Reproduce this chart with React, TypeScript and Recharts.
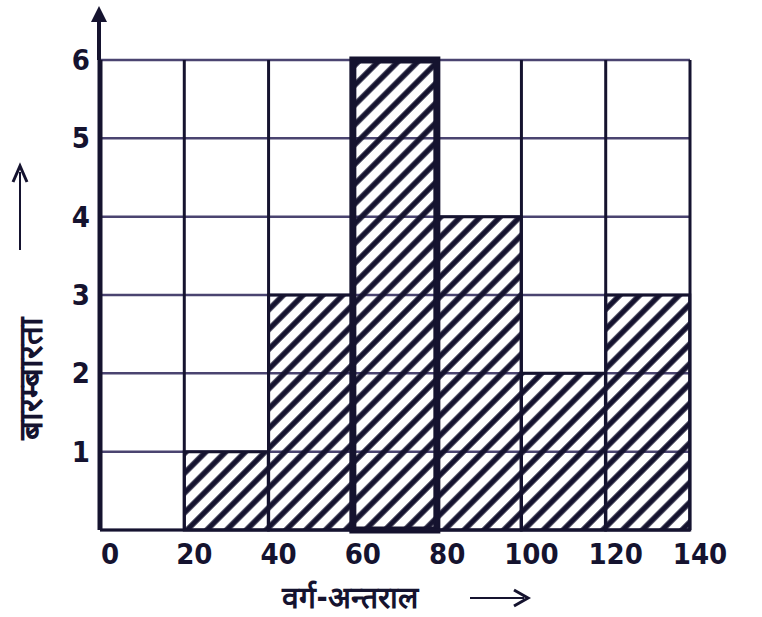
import { useEffect } from 'react';
import { ComposedChart, Bar, Cell, XAxis, YAxis, CartesianGrid, Customized } from 'recharts';

const classLabels = ['0-20', '20-40', '40-60', '60-80', '80-100', '100-120', '120-140'];
const classStarts = [0, 20, 40, 60, 80, 100, 120];
const frequencies = [0, 1, 3, 6, 4, 2, 3];
const xTicks = [0, 20, 40, 60, 80, 100, 120, 140];
const yTicks = [0, 1, 2, 3, 4, 5, 6];

const W = 762;
const H = 617;
const M = { top: 60, right: 72, bottom: 47, left: 60 };
const INK = '#15132f';
const FONT = '"DejaVu Sans Condensed", "DejaVu Sans", sans-serif';

const data = classLabels.map((label, i) => ({
  label,
  start: classStarts[i],
  freq: frequencies[i],
}));

function XTick(props: any) {
  const { x, y, payload } = props;
  return (
    <text x={x + 10} y={y + 26} textAnchor="middle" fontFamily={FONT} fontWeight="bold" fontSize={29} fill={INK}>
      {payload.value}
    </text>
  );
}

function YTick(props: any) {
  const { x, y, payload } = props;
  if (payload.value === 0) return null;
  return (
    <text x={x - 2} y={y + 10} textAnchor="end" fontFamily={FONT} fontWeight="bold" fontSize={29} fill={INK}>
      {payload.value}
    </text>
  );
}

function Decorations() {
  const left = M.left + 40;
  const top = M.top;
  return (
    <g>
      {/* y axis arrow */}
      <line x1={left - 1} y1={top} x2={left - 1} y2={10} stroke={INK} strokeWidth={4} />
      <path d={`M${left - 9},22 L${left - 1},6 L${left + 7},22 Z`} fill={INK} />
      {/* y label */}
      <line x1={20} y1={250} x2={20} y2={172} stroke={INK} strokeWidth={2} />
      <path d="M13,182 L20,166 L27,182" fill="none" stroke={INK} strokeWidth={3} />
      <text
        x={30}
        y={378}
        transform="rotate(-90 30 378)"
        textAnchor="middle"
        dominantBaseline="central"
        fontFamily={FONT}
        fontWeight="bold"
        fontSize={33}
        fill={INK}
      >
        बारम्बारता
      </text>
      {/* x label */}
      <text x={350} y={608} textAnchor="middle" fontFamily={FONT} fontWeight="bold" fontSize={30} fill={INK}>
        वर्ग-अन्तराल
      </text>
      <line x1={470} y1={598} x2={524} y2={598} stroke={INK} strokeWidth={2} />
      <path d="M514,590 L528,598 L514,606" fill="none" stroke={INK} strokeWidth={3} />
    </g>
  );
}

export default function App() {
  useEffect(() => {
    document.body.style.margin = '0';
  }, []);

  return (
    <div style={{ width: W, height: H, background: '#fff' }}>
      <ComposedChart width={W} height={H} data={data} margin={M} barCategoryGap={0} barGap={0}>
        <defs>
          <pattern id="hatch" width="14" height="14" patternUnits="userSpaceOnUse" patternTransform="rotate(45)">
            <line x1="3" y1="0" x2="3" y2="14" stroke={INK} strokeWidth={5.5} />
          </pattern>
        </defs>
        <CartesianGrid
          xAxisId="num"
          vertical={false}
          horizontalValues={yTicks}
          stroke="#4a4470"
          strokeWidth={2.5}
        />
        <CartesianGrid
          xAxisId="num"
          horizontal={false}
          verticalValues={xTicks}
          stroke={INK}
          strokeWidth={3}
        />
        <XAxis xAxisId="cat" dataKey="label" hide height={0} />
        <XAxis
          xAxisId="num"
          type="number"
          dataKey="start"
          domain={[0, 140]}
          ticks={xTicks}
          tick={<XTick />}
          tickLine={false}
          axisLine={{ stroke: INK, strokeWidth: 3 }}
          height={40}
          interval={0}
        />
        <YAxis
          type="number"
          domain={[0, 6]}
          ticks={yTicks}
          tick={<YTick />}
          tickLine={false}
          axisLine={{ stroke: INK, strokeWidth: 5 }}
          width={40}
          interval={0}
        />
        <Bar xAxisId="cat" dataKey="freq" fill="url(#hatch)" stroke={INK} strokeWidth={3} isAnimationActive={false}>
          {data.map((d) => (
            <Cell key={d.label} strokeWidth={d.start === 60 ? 7 : 3} />
          ))}
        </Bar>
        <Customized component={<Decorations />} />
      </ComposedChart>
    </div>
  );
}
